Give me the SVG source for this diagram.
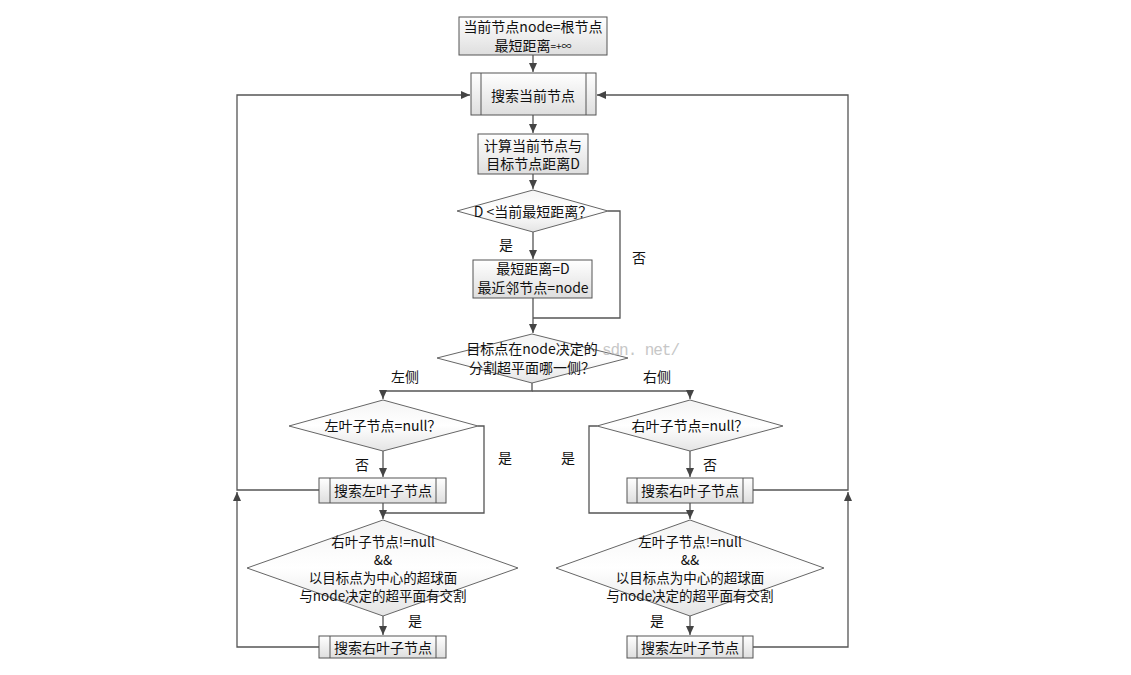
<svg xmlns="http://www.w3.org/2000/svg" width="1131" height="675" viewBox="0 0 1131 675">
<defs>
<linearGradient id="g" x1="0" y1="0" x2="0" y2="1"><stop offset="0" stop-color="#ffffff"/><stop offset="1" stop-color="#dedede"/></linearGradient>
<linearGradient id="gd" x1="0" y1="0" x2="0" y2="1"><stop offset="0" stop-color="#f4f4f4"/><stop offset="0.5" stop-color="#ffffff"/><stop offset="1" stop-color="#e4e4e4"/></linearGradient>
<marker id="a" markerWidth="10" markerHeight="8" refX="9" refY="4" orient="auto" markerUnits="userSpaceOnUse"><path d="M0,0 L9,4 L0,8 z" fill="#444"/></marker>
</defs>
<style>
.n{fill:url(#g);stroke:#555;stroke-width:1}
.d{fill:url(#gd);stroke:#666;stroke-width:1}
.i{stroke:#555;stroke-width:1;fill:none}
.l{fill:none;stroke:#555;stroke-width:1.3}
.l.arr{marker-end:url(#a)}
text{font-family:"Noto Sans CJK SC","Noto Sans",sans-serif;font-size:14px;fill:#111;text-anchor:middle;dominant-baseline:central}
.lb{font-size:14px}
.sm{font-size:13.5px}
.wm{font-family:"Liberation Mono",monospace;font-size:16px;fill:#b0b0b0;opacity:0.7;text-anchor:start}
</style>
<rect width="1131" height="675" fill="#ffffff"/>
<g id="connectors">
<path class="l arr" d="M533,55 V72"/>
<path class="l arr" d="M533,115 V133"/>
<path class="l arr" d="M533,174 V189"/>
<path class="l arr" d="M533,232 V259"/>
<path class="l" d="M608,211 H620 V318 H533"/>
<path class="l arr" d="M533,298 V333"/>
<path class="l arr" d="M532,383 V391 H383 V399"/>
<path class="l arr" d="M532,391 H690 V399"/>
<path class="l arr" d="M383,451 V477"/>
<path class="l" d="M478,426 H484 V513 H383"/>
<path class="l arr" d="M383,503 V519"/>
<path class="l arr" d="M383,616 V635"/>
<path class="l arr" d="M319,490 H237 V95 H470"/>
<path class="l arr" d="M319,647 H237 V492"/>
<path class="l arr" d="M690,451 V477"/>
<path class="l" d="M597,426 H589 V513 H690"/>
<path class="l arr" d="M690,503 V519"/>
<path class="l arr" d="M690,616 V635"/>
<path class="l arr" d="M753,490 H848 V95 H597"/>
<path class="l arr" d="M753,647 H848 V492"/>
</g>
<g id="labels">
<text class="lb" x="506" y="244">是</text>
<text class="lb" x="639" y="257">否</text>
<text class="lb" x="405" y="376">左侧</text>
<text class="lb" x="657" y="376">右侧</text>
<text class="lb" x="362" y="464">否</text>
<text class="lb" x="505" y="457">是</text>
<text class="lb" x="415" y="620">是</text>
<text class="lb" x="568" y="457">是</text>
<text class="lb" x="710" y="464">否</text>
<text class="lb" x="657" y="620">是</text>
</g>
<g id="start">
<rect class="n" x="459" y="17" width="148" height="38"/>
<text x="533" y="26" font-size="13">当前节点node=根节点</text>
<text x="533" y="45" font-size="13">最短距离<tspan font-size="10">=+∞</tspan></text>
</g>
<g id="search-current">
<rect class="n" x="471" y="73" width="125" height="42"/>
<line class="i" x1="481" y1="73" x2="481" y2="115"/>
<line class="i" x1="586" y1="73" x2="586" y2="115"/>
<text x="533" y="95">搜索当前节点</text>
</g>
<g id="calc-distance">
<rect class="n" x="478" y="134" width="110" height="40"/>
<text x="533" y="145">计算当前节点与</text>
<text x="533" y="163">目标节点距离D</text>
</g>
<g id="cmp-distance">
<polygon class="d" points="457,211 533,190 608,211 533,232"/>
<text x="533" y="211">D &lt;当前最短距离？</text>
</g>
<g id="update-nearest">
<rect class="n" x="473" y="260" width="119" height="38"/>
<text x="533" y="268">最短距离=D</text>
<text x="533" y="287">最近邻节点=node</text>
</g>
<g id="which-side">
<polygon class="d" points="437,358 532,334 628,358 532,383"/>
<text x="532" y="348">目标点在node决定的</text>
<text x="532" y="367">分割超平面哪一侧？</text>
</g>
<g id="left-null">
<polygon class="d" points="289,426 383,400 478,426 383,451"/>
<text x="383" y="425">左叶子节点=null？</text>
</g>
<g id="search-left-1">
<rect class="n" x="319" y="478" width="127" height="25"/>
<line class="i" x1="330" y1="478" x2="330" y2="503"/>
<line class="i" x1="436" y1="478" x2="436" y2="503"/>
<text x="383" y="490">搜索左叶子节点</text>
</g>
<g id="left-cross">
<polygon class="d" points="247,568 383,520 518,568 383,616"/>
<text class="sm" x="383" y="541">右叶子节点!=null</text>
<text class="sm" x="383" y="559">&amp;&amp;</text>
<text class="sm" x="383" y="577">以目标点为中心的超球面</text>
<text class="sm" x="383" y="595">与node决定的超平面有交割</text>
</g>
<g id="search-right-1">
<rect class="n" x="319" y="636" width="127" height="22"/>
<line class="i" x1="330" y1="636" x2="330" y2="658"/>
<line class="i" x1="436" y1="636" x2="436" y2="658"/>
<text x="383" y="647">搜索右叶子节点</text>
</g>
<g id="right-null">
<polygon class="d" points="597,426 690,400 783,426 690,451"/>
<text x="690" y="425">右叶子节点=null？</text>
</g>
<g id="search-right-2">
<rect class="n" x="627" y="478" width="126" height="25"/>
<line class="i" x1="637" y1="478" x2="637" y2="503"/>
<line class="i" x1="743" y1="478" x2="743" y2="503"/>
<text x="690" y="490">搜索右叶子节点</text>
</g>
<g id="right-cross">
<polygon class="d" points="556,568 690,520 824,568 690,616"/>
<text class="sm" x="690" y="541">左叶子节点!=null</text>
<text class="sm" x="690" y="559">&amp;&amp;</text>
<text class="sm" x="690" y="577">以目标点为中心的超球面</text>
<text class="sm" x="690" y="595">与node决定的超平面有交割</text>
</g>
<g id="search-left-2">
<rect class="n" x="627" y="636" width="126" height="22"/>
<line class="i" x1="637" y1="636" x2="637" y2="658"/>
<line class="i" x1="743" y1="636" x2="743" y2="658"/>
<text x="690" y="647">搜索左叶子节点</text>
</g>
<text class="wm" x="602" y="351" textLength="78">sdn. net/</text>
</svg>
